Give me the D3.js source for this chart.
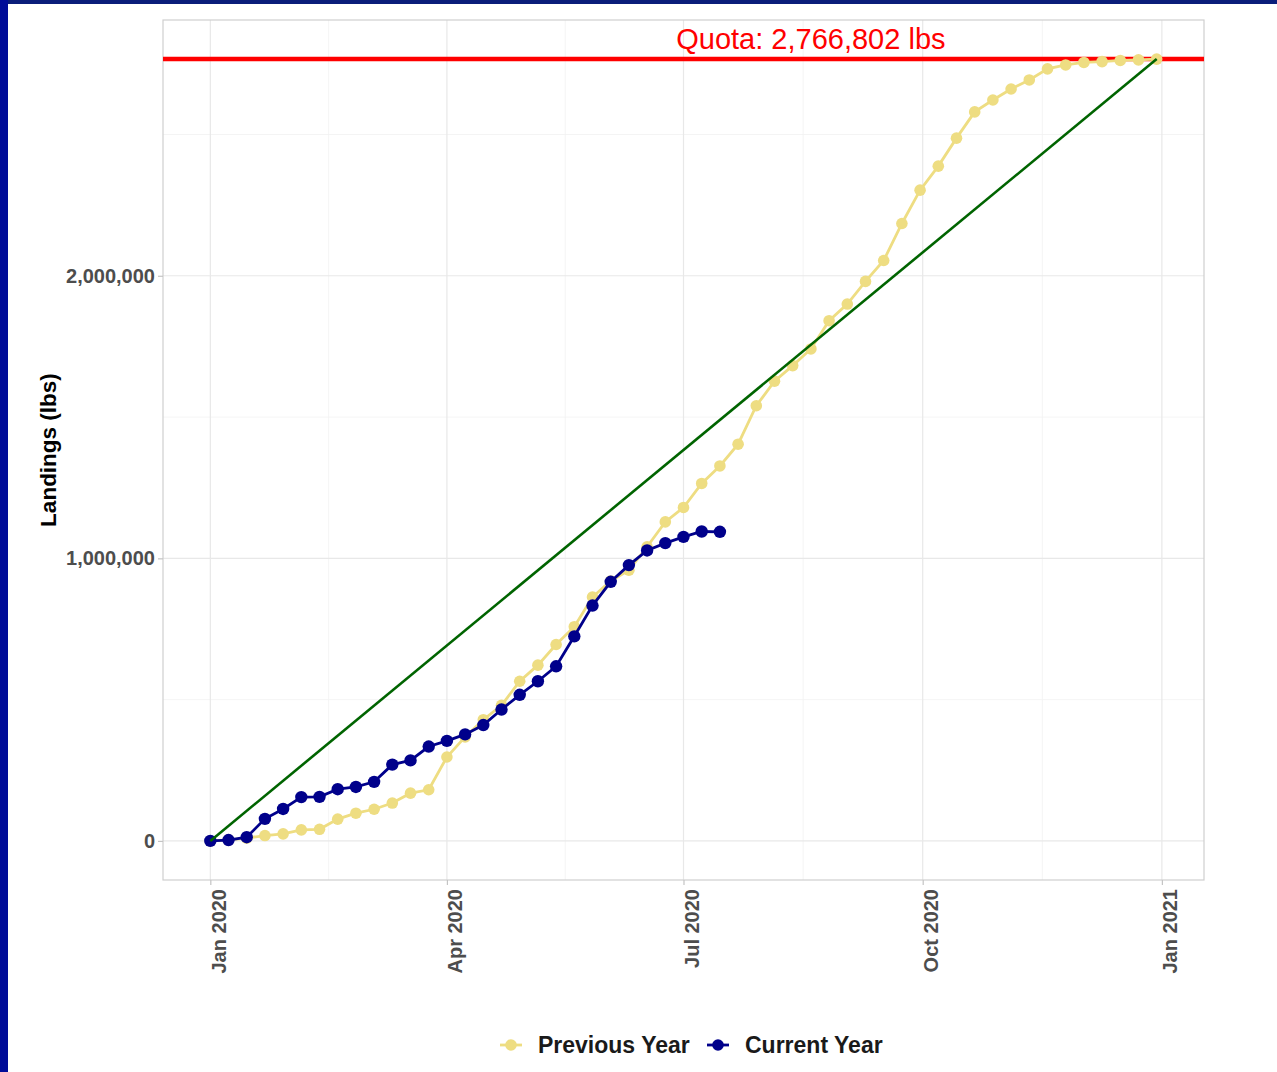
<!DOCTYPE html>
<html>
<head>
<meta charset="utf-8">
<script src="https://cdn.jsdelivr.net/npm/d3@7"></script>
<style>
  body { margin: 0; background: #fff; }
  svg { display: block; }
</style>
</head>
<body>
<div id="chart"></div>
<script>
// weekly dates (x categories)
var weeks = ["2020-01-01","2020-01-08","2020-01-15","2020-01-22","2020-01-29",
  "2020-02-05","2020-02-12","2020-02-19","2020-02-26","2020-03-04","2020-03-11",
  "2020-03-18","2020-03-25","2020-04-01","2020-04-08","2020-04-15","2020-04-22",
  "2020-04-29","2020-05-06","2020-05-13","2020-05-20","2020-05-27","2020-06-03",
  "2020-06-10","2020-06-17","2020-06-24","2020-07-01","2020-07-08","2020-07-15",
  "2020-07-22","2020-07-29","2020-08-05","2020-08-12","2020-08-19","2020-08-26",
  "2020-09-02","2020-09-09","2020-09-16","2020-09-23","2020-09-30","2020-10-07",
  "2020-10-14","2020-10-21","2020-10-28","2020-11-04","2020-11-11","2020-11-18",
  "2020-11-25","2020-12-02","2020-12-09","2020-12-16","2020-12-23","2020-12-30"];

// cumulative landings, lbs
var previousYear = [0, 4000, 10000, 19000, 25000, 39000, 41000, 77000, 98000, 112000,
  134000, 169000, 181000, 297000, 368000, 429000, 480000, 565000, 622000, 695000,
  758000, 863000, 920000, 958000, 1041000, 1129000, 1180000, 1265000, 1327000, 1404000,
  1540000, 1627000, 1682000, 1741000, 1841000, 1900000, 1980000, 2054000, 2185000, 2303000,
  2388000, 2487000, 2580000, 2622000, 2661000, 2693000, 2732000, 2746000, 2755000, 2758000,
  2762000, 2764000, 2766802];
var currentYear = [0, 3000, 13000, 78000, 113000, 155000, 156000, 183000, 191000, 209000,
  270000, 285000, 334000, 354000, 377000, 410000, 465000, 517000, 565000, 618000,
  724000, 833000, 917000, 976000, 1028000, 1054000, 1076000, 1095000, 1094000];

var quota = 2766802;
var xTickDates = ["2020-01-01","2020-04-01","2020-07-01","2020-10-01","2021-01-01"];
var xTickLabels = ["Jan 2020","Apr 2020","Jul 2020","Oct 2020","Jan 2021"];
var yTicks = [0, 1000000, 2000000];
var yMinor = [500000, 1500000, 2500000];
var seriesNames = ["Previous Year", "Current Year"];

var W = 1277, H = 1072;
var panel = {left: 163, right: 1204, top: 20, bottom: 880};
var colPrev = "#EEDD82", colCur = "#00008B";
var font = "'Liberation Sans', Arial, sans-serif";

var parse = d3.utcParse("%Y-%m-%d");
var dates = weeks.map(parse);

var svg = d3.select("#chart").append("svg")
  .attr("width", W).attr("height", H);

// blue frame of the slide
svg.append("rect").attr("x", 0).attr("y", 0).attr("width", W).attr("height", 4).attr("fill", "#0a1d7a");
svg.append("rect").attr("x", 0).attr("y", 0).attr("width", 8).attr("height", H).attr("fill", "#000c99");

// scales with ggplot style 5% expansion
var d0 = dates[0], d1 = dates[dates.length - 1];
var span = d1 - d0;
var x = d3.scaleUtc()
  .domain([new Date(+d0 - span * 0.05), new Date(+d1 + span * 0.05)])
  .range([panel.left, panel.right]);
var y = d3.scaleLinear()
  .domain([-quota * 0.05, quota * 1.05])
  .range([panel.bottom, panel.top]);

var majorX = xTickDates.map(parse);
var minorX = [];
for (var i = 0; i < majorX.length - 1; i++) {
  minorX.push(new Date((+majorX[i] + +majorX[i + 1]) / 2));
}

var g = svg.append("g");

// gridlines
g.selectAll(".minx").data(minorX).enter().append("line")
  .attr("x1", d => x(d)).attr("x2", d => x(d))
  .attr("y1", panel.top).attr("y2", panel.bottom)
  .attr("stroke", "#f1f1f1").attr("stroke-width", 0.8);
g.selectAll(".miny").data(yMinor).enter().append("line")
  .attr("x1", panel.left).attr("x2", panel.right)
  .attr("y1", d => y(d)).attr("y2", d => y(d))
  .attr("stroke", "#f1f1f1").attr("stroke-width", 0.8);
g.selectAll(".majx").data(majorX).enter().append("line")
  .attr("x1", d => x(d)).attr("x2", d => x(d))
  .attr("y1", panel.top).attr("y2", panel.bottom)
  .attr("stroke", "#e8e8e8").attr("stroke-width", 1.2);
g.selectAll(".majy").data(yTicks).enter().append("line")
  .attr("x1", panel.left).attr("x2", panel.right)
  .attr("y1", d => y(d)).attr("y2", d => y(d))
  .attr("stroke", "#e8e8e8").attr("stroke-width", 1.2);

// panel border
g.append("rect")
  .attr("x", panel.left).attr("y", panel.top)
  .attr("width", panel.right - panel.left).attr("height", panel.bottom - panel.top)
  .attr("fill", "none").attr("stroke", "#cfcfcf").attr("stroke-width", 1.2);

// axes
var xAxis = d3.axisBottom(x).tickValues(majorX)
  .tickFormat((d, i) => xTickLabels[i]).tickSize(5).tickPadding(0);
var xg = svg.append("g").attr("transform", "translate(0," + panel.bottom + ")").call(xAxis);
xg.select(".domain").remove();
xg.selectAll(".tick line").attr("stroke", "#c4c4c4").attr("stroke-width", 1.2);
xg.selectAll(".tick text")
  .attr("transform", "rotate(-90)")
  .attr("x", -9).attr("y", 8).attr("dy", "0.35em")
  .attr("text-anchor", "end")
  .attr("font-family", font).attr("font-weight", "bold")
  .attr("font-size", 20).attr("fill", "#4d4d4d");

var yAxis = d3.axisLeft(y).tickValues(yTicks)
  .tickFormat(d3.format(",")).tickSize(5).tickPadding(3);
var yg = svg.append("g").attr("transform", "translate(" + panel.left + ",0)").call(yAxis);
yg.select(".domain").remove();
yg.selectAll(".tick line").attr("stroke", "#c4c4c4").attr("stroke-width", 1.2);
yg.selectAll(".tick text")
  .attr("font-family", font).attr("font-weight", "bold")
  .attr("font-size", 20).attr("fill", "#4d4d4d");

svg.append("text")
  .attr("transform", "translate(56," + 450 + ") rotate(-90)")
  .attr("text-anchor", "middle")
  .attr("font-family", font).attr("font-weight", "bold")
  .attr("font-size", 22.5).attr("fill", "#000")
  .text("Landings (lbs)");

// quota line
g.append("line")
  .attr("x1", panel.left).attr("x2", panel.right)
  .attr("y1", y(quota)).attr("y2", y(quota))
  .attr("stroke", "#ff0000").attr("stroke-width", 4.5);
g.append("text")
  .attr("x", x(parse("2020-08-19"))).attr("y", y(quota) - 10)
  .attr("text-anchor", "middle")
  .attr("font-family", font).attr("font-size", 29).attr("fill", "#ff0000")
  .text("Quota: " + d3.format(",")(quota) + " lbs");

var line = d3.line().x(d => x(d[0])).y(d => y(d[1]));

function drawSeries(vals, col, r) {
  var pts = vals.map((v, i) => [dates[i], v]);
  g.append("path").datum(pts)
    .attr("d", line).attr("fill", "none")
    .attr("stroke", col).attr("stroke-width", 2.8);
  g.append("g").selectAll("circle").data(pts).enter().append("circle")
    .attr("cx", d => x(d[0])).attr("cy", d => y(d[1]))
    .attr("r", r).attr("fill", col);
}
drawSeries(previousYear, colPrev, 5.8);
drawSeries(currentYear, colCur, 6.2);

// straight-line target pace
g.append("line")
  .attr("x1", x(d0)).attr("y1", y(0))
  .attr("x2", x(d1)).attr("y2", y(quota))
  .attr("stroke", "#006400").attr("stroke-width", 2.6);

// legend
var legend = svg.append("g").attr("transform", "translate(0,1045)");
var keyX = [500, 707], cols = [colPrev, colCur];
seriesNames.forEach(function(name, i) {
  legend.append("line")
    .attr("x1", keyX[i]).attr("x2", keyX[i] + 22)
    .attr("stroke", cols[i]).attr("stroke-width", 2.8);
  legend.append("circle")
    .attr("cx", keyX[i] + 11).attr("r", 5.8).attr("fill", cols[i]);
  legend.append("text")
    .attr("x", keyX[i] + 38).attr("dy", "0.35em")
    .attr("font-family", font).attr("font-weight", "bold")
    .attr("font-size", 23).attr("fill", "#1a1a1a")
    .text(name);
});
</script>
</body>
</html>
